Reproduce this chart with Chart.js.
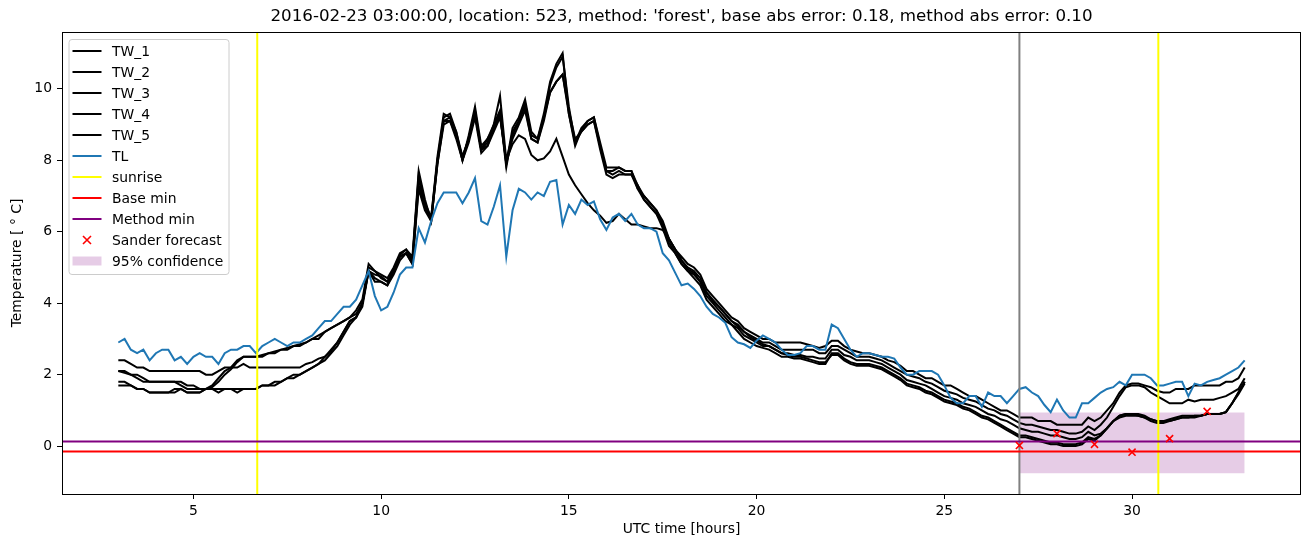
<!DOCTYPE html>
<html>
<head>
<meta charset="utf-8">
<script src="https://cdn.jsdelivr.net/npm/chart.js@4.4.1/dist/chart.umd.min.js"></script>
<style>
  html, body { margin: 0; padding: 0; background: #fff; }
  #wrap { width: 1310px; height: 547px; }
</style>
</head>
<body>
<div id="wrap"><canvas id="chart" width="1310" height="547"></canvas></div>
<script>
// time grid: 10 minute steps from 03:00 to 33:00 (UTC hours)
const START_HOUR = 3
const STEP_HOURS = 1 / 6

// TL, air temperature, one value per 10 minutes
const tl = [
  2.9, 3.0, 2.7, 2.6, 2.7, 2.4,   2.6, 2.7, 2.7, 2.4, 2.5, 2.3,
  2.5, 2.6, 2.5, 2.5, 2.3, 2.6,   2.7, 2.7, 2.8, 2.8, 2.6, 2.8,
  2.9, 3.0, 2.9, 2.8, 2.9, 2.9,   3.0, 3.1, 3.3, 3.5, 3.5, 3.7,
  3.9, 3.9, 4.1, 4.5, 4.9, 4.2,   3.8, 3.9, 4.3, 4.8, 5.0, 5.0,
  6.1, 5.7, 6.3, 6.8, 7.1, 7.1,   7.1, 6.8, 7.1, 7.5, 6.3, 6.2,
  6.7, 7.3, 5.3, 6.6, 7.2, 7.1,   6.9, 7.1, 7.0, 7.4, 7.45, 6.2,
  6.75, 6.5, 6.9, 6.75, 6.85, 6.35,   6.05, 6.4, 6.5, 6.3, 6.5, 6.2,
  6.1, 6.1, 6.0, 5.4, 5.2, 4.85,  4.5, 4.55, 4.4, 4.2, 3.9, 3.7,
  3.6, 3.45, 3.05, 2.9, 2.85, 2.75,   2.95, 3.1, 3.0, 2.9, 2.7, 2.55,
  2.55, 2.6, 2.8, 2.8, 2.7, 2.7,   3.4, 3.3, 3.0, 2.7, 2.5, 2.6,
  2.6, 2.55, 2.5, 2.5, 2.45, 2.2,   2.0, 2.0, 2.1, 2.1, 2.1, 2.0,
  1.7, 1.35, 1.2, 1.2, 1.4, 1.4,   1.1, 1.5, 1.4, 1.4, 1.2, 1.4,
  1.6, 1.65, 1.5, 1.4, 1.15, 0.95,   1.3, 1.0, 0.8, 0.8, 1.2, 1.2,
  1.35, 1.5, 1.6, 1.65, 1.8, 1.7,   2.0, 2.0, 2.0, 1.9, 1.7, 1.7,
  1.75, 1.8, 1.8, 1.4, 1.75, 1.7,   1.8, 1.85, 1.9, 2.0, 2.1, 2.2,
  2.4
]

// TW_1 .. TW_5, road surface sensors
const tw1 = [
  2.4, 2.4, 2.3, 2.2, 2.2, 2.1,   2.1, 2.1, 2.1, 2.1, 2.1, 2.1,
  2.1, 2.1, 2.0, 2.0, 2.1, 2.2,   2.2, 2.2, 2.3, 2.2, 2.2, 2.2,
  2.2, 2.2, 2.2, 2.2, 2.2, 2.2,   2.3, 2.35, 2.45, 2.5, 2.65, 2.9,
  3.2, 3.5, 3.6, 4.0, 4.9, 4.8,   4.75, 4.6, 4.95, 5.35, 5.5, 5.2,
  7.6, 6.8, 6.4, 8.1, 9.3, 9.2,   8.8, 8.0, 8.7, 9.5, 8.4, 8.6,
  9.0, 9.4, 7.9, 8.9, 9.2, 9.7,   8.8, 8.6, 9.3, 10.2, 10.7, 11.0,
  9.3, 8.4, 8.85, 9.1, 9.2, 8.5,   7.8, 7.8, 7.8, 7.7, 7.7, 7.2,
  7.0, 6.8, 6.6, 6.3, 5.8, 5.5,   5.3, 5.1, 5.0, 4.8, 4.4, 4.2,
  4.0, 3.8, 3.6, 3.5, 3.3, 3.2,   3.1, 3.0, 3.0, 2.9, 2.9, 2.9,
  2.9, 2.9, 2.85, 2.8, 2.75, 2.8,   2.95, 2.95, 2.8, 2.7, 2.65, 2.6,
  2.6, 2.55, 2.5, 2.4, 2.35, 2.25,   2.1, 2.1, 2.0, 1.9, 1.9, 1.8,
  1.7, 1.7, 1.6, 1.5, 1.4, 1.4,   1.3, 1.2, 1.1, 1.0, 1.0, 0.9,
  0.8, 0.8, 0.8, 0.7, 0.7, 0.7,   0.6, 0.6, 0.6, 0.6, 0.6, 0.8,
  0.7, 0.8, 1.0, 1.2, 1.5, 1.7,   1.75, 1.75, 1.7, 1.65, 1.55, 1.5,
  1.5, 1.6, 1.6, 1.6, 1.7, 1.7,   1.7, 1.7, 1.7, 1.8, 1.8, 1.9,
  2.2
]
const tw2 = [
  2.1, 2.1, 2.0, 1.9, 1.8, 1.8,   1.8, 1.8, 1.8, 1.8, 1.8, 1.7,
  1.7, 1.6, 1.6, 1.65, 1.8, 2.0,   2.15, 2.35, 2.5, 2.5, 2.5, 2.55,
  2.6, 2.65, 2.7, 2.75, 2.8, 2.85,   2.9, 3.0, 3.1, 3.2, 3.3, 3.4,
  3.5, 3.6, 3.8, 4.1, 5.1, 4.9,   4.8, 4.7, 5.0, 5.4, 5.5, 5.3,
  7.7, 6.9, 6.3, 8.0, 9.2, 9.3,   8.8, 8.1, 8.6, 9.4, 8.3, 8.6,
  8.9, 9.3, 7.8, 8.8, 9.1, 9.6,   8.7, 8.6, 9.2, 10.1, 10.6, 10.9,
  9.5, 8.5, 8.9, 9.1, 9.2, 8.4,   7.7, 7.7, 7.8, 7.7, 7.7, 7.3,
  7.0, 6.8, 6.6, 6.2, 5.8, 5.5,   5.2, 5.0, 4.9, 4.7, 4.3, 4.1,
  3.9, 3.7, 3.5, 3.4, 3.2, 3.1,   3.0, 2.9, 2.9, 2.8, 2.7, 2.7,
  2.7, 2.7, 2.7, 2.7, 2.6, 2.6,   2.8, 2.8, 2.7, 2.6, 2.5, 2.5,
  2.5, 2.45, 2.4, 2.3, 2.2, 2.1,   2.0, 1.95, 1.9, 1.8, 1.75, 1.65,
  1.55, 1.5, 1.45, 1.35, 1.3, 1.25,   1.15, 1.05, 1.0, 0.9, 0.85, 0.75,
  0.65, 0.6, 0.6, 0.55, 0.5, 0.45,   0.45, 0.4, 0.35, 0.35, 0.4, 0.55,
  0.45, 0.6, 0.8, 1.1, 1.4, 1.65,   1.7, 1.7, 1.65, 1.5, 1.4, 1.3,
  1.2, 1.2, 1.2, 1.3, 1.25, 1.3,   1.3, 1.3, 1.35, 1.4, 1.5, 1.6,
  1.9
]
const tw3 = [
  2.1, 2.05, 2.0, 2.0, 1.9, 1.8,   1.8, 1.8, 1.8, 1.8, 1.7, 1.6,
  1.6, 1.6, 1.6, 1.7, 1.9, 2.1,   2.2, 2.4, 2.5, 2.5, 2.5, 2.5,
  2.6, 2.6, 2.7, 2.7, 2.8, 2.8,   2.9, 3.0, 3.0, 3.2, 3.3, 3.4,
  3.5, 3.6, 3.7, 4.0, 5.0, 4.9,   4.7, 4.6, 4.9, 5.3, 5.4, 5.2,
  7.5, 6.7, 6.4, 8.0, 9.1, 9.2,   8.7, 8.1, 8.6, 9.3, 8.3, 8.5,
  9.0, 9.8, 8.0, 8.7, 9.1, 9.5,   8.6, 8.5, 9.2, 9.9, 10.2, 10.4,
  9.4, 8.6, 8.8, 9.0, 9.1, 8.4,   7.7, 7.6, 7.7, 7.6, 7.6, 7.3,
  6.9, 6.7, 6.5, 6.2, 5.7, 5.4,   5.1, 4.9, 4.8, 4.6, 4.2, 4.0,
  3.8, 3.6, 3.4, 3.3, 3.1, 3.0,   2.9, 2.8, 2.8, 2.7, 2.6, 2.6,
  2.55, 2.55, 2.5, 2.5, 2.45, 2.45,   2.7, 2.7, 2.55, 2.5, 2.4, 2.4,
  2.4, 2.35, 2.3, 2.2, 2.1, 2.0,   1.85, 1.8, 1.75, 1.7, 1.6, 1.5,
  1.4, 1.35, 1.3, 1.2, 1.15, 1.1,   1.0, 0.9, 0.85, 0.75, 0.7, 0.6,
  0.5, 0.45, 0.4, 0.4, 0.35, 0.3,   0.3, 0.25, 0.2, 0.2, 0.25, 0.4,
  0.3, 0.35, 0.5, 0.7, 0.85, 0.9,   0.9, 0.85, 0.8, 0.75, 0.7, 0.7,
  0.7, 0.75, 0.8, 0.8, 0.8, 0.85,   0.9, 0.9, 0.9, 0.95, 1.2, 1.5,
  1.8
]
const tw4 = [
  1.8, 1.8, 1.7, 1.6, 1.6, 1.5,   1.5, 1.5, 1.5, 1.6, 1.6, 1.5,
  1.5, 1.5, 1.6, 1.6, 1.6, 1.6,   1.6, 1.6, 1.6, 1.6, 1.6, 1.7,
  1.7, 1.8, 1.8, 1.9, 2.0, 2.0,   2.1, 2.2, 2.3, 2.5, 2.7, 2.9,
  3.2, 3.5, 3.6, 4.0, 4.9, 4.7,   4.6, 4.5, 4.9, 5.3, 5.4, 5.1,
  7.3, 6.7, 6.3, 7.9, 9.1, 9.1,   8.7, 8.0, 8.6, 9.3, 8.3, 8.4,
  8.9, 9.3, 7.9, 8.6, 9.0, 9.4,   8.6, 8.5, 9.1, 9.9, 10.2, 10.4,
  9.3, 8.5, 8.8, 9.0, 9.1, 8.3,   7.6, 7.5, 7.6, 7.6, 7.6, 7.2,
  6.9, 6.7, 6.5, 6.1, 5.6, 5.4,   5.1, 4.9, 4.7, 4.5, 4.1, 3.9,
  3.7, 3.5, 3.4, 3.2, 3.0, 2.9,   2.8, 2.75, 2.7, 2.6, 2.5, 2.5,
  2.45, 2.45, 2.4, 2.35, 2.3, 2.3,   2.6, 2.6, 2.45, 2.35, 2.3, 2.3,
  2.3, 2.25, 2.2, 2.1, 2.0, 1.9,   1.75, 1.7, 1.65, 1.55, 1.5, 1.4,
  1.3, 1.25, 1.2, 1.1, 1.05, 0.95,   0.85, 0.8, 0.7, 0.6, 0.5, 0.4,
  0.3, 0.3, 0.25, 0.2, 0.15, 0.1,   0.1, 0.05, 0.05, 0.05, 0.1, 0.25,
  0.2, 0.3, 0.5, 0.7, 0.85, 0.9,   0.9, 0.9, 0.85, 0.75, 0.7, 0.7,
  0.75, 0.8, 0.85, 0.85, 0.85, 0.85,   0.9, 0.9, 0.9, 0.95, 1.2, 1.5,
  1.8
]
const tw5 = [
  1.7, 1.7, 1.7, 1.6, 1.6, 1.5,   1.5, 1.5, 1.5, 1.5, 1.6, 1.5,
  1.5, 1.5, 1.6, 1.6, 1.5, 1.6,   1.6, 1.5, 1.6, 1.6, 1.6, 1.7,
  1.7, 1.7, 1.8, 1.9, 1.9, 2.0,   2.1, 2.2, 2.3, 2.4, 2.6, 2.8,
  3.1, 3.4, 3.6, 3.9, 4.9, 4.6,   4.6, 4.5, 4.8, 5.2, 5.4, 5.1,
  7.2, 6.6, 6.3, 7.9, 9.0, 9.1,   8.6, 8.0, 8.5, 9.2, 8.2, 8.4,
  8.8, 9.2, 8.0, 8.45, 8.7, 8.6,   8.15, 8.0, 8.05, 8.25, 8.6, 8.1,
  7.6, 7.3, 7.05, 6.8, 6.6, 6.45,   6.25, 6.3, 6.5, 6.35, 6.2, 6.2,
  6.15, 6.1, 6.1, 6.05, 5.8, 5.5,   5.2, 4.95, 4.85, 4.6, 4.3, 4.05,
  3.9, 3.7, 3.5, 3.35, 3.2, 3.05,   2.95, 2.85, 2.8, 2.7, 2.6, 2.55,
  2.5, 2.5, 2.45, 2.4, 2.35, 2.35,   2.55, 2.55, 2.4, 2.3, 2.25, 2.25,
  2.25, 2.2, 2.15, 2.05, 1.95, 1.85,   1.7, 1.65, 1.6, 1.5, 1.45, 1.35,
  1.25, 1.2, 1.15, 1.05, 1.0, 0.9,   0.8, 0.75, 0.65, 0.55, 0.45, 0.35,
  0.25, 0.25, 0.2, 0.15, 0.1, 0.05,   0.05, 0.0, 0.0, 0.0, 0.05, 0.2,
  0.15, 0.3, 0.5, 0.7, 0.8, 0.85,   0.85, 0.85, 0.8, 0.7, 0.65, 0.65,
  0.7, 0.75, 0.8, 0.8, 0.85, 0.85,   0.9, 0.9, 0.9, 0.95, 1.2, 1.45,
  1.75
]

const sunriseHours = [6.7, 30.7]
const forecastStart = 27
const baseMin = -0.15
const methodMin = 0.13
const forecastHours = [27, 28, 29, 30, 31, 32]
const forecastTemps = [0.02, 0.35, 0.05, -0.17, 0.21, 0.97]
const ciHours = [27, 33]
const ciLow = -0.76
const ciHigh = 0.94

const xTicks = [5, 10, 15, 20, 25, 30]
const yTicks = [0, 2, 4, 6, 8, 10]
const X_MIN = 1.5, X_MAX = 34.5
const Y_MIN = -1.34, Y_MAX = 11.59

const title = "2016-02-23 03:00:00, location: 523, method: 'forest', base abs error: 0.18, method abs error: 0.10"
const FONT = "'DejaVu Sans', sans-serif"
const LW = 2

const hours = tl.map((_, i) => START_HOUR + i * STEP_HOURS)
const toPoints = ys => ys.map((y, i) => ({ x: hours[i], y: y }))

const series = (label, ys, color) => ({
  label: label,
  data: toPoints(ys),
  borderColor: color,
  borderWidth: LW,
  pointRadius: 0,
  fill: false,
  tension: 0
})
const vline = (label, x, color) => ({
  label: label,
  data: [{ x: x, y: Y_MIN }, { x: x, y: Y_MAX }],
  borderColor: color,
  borderWidth: LW,
  pointRadius: 0,
  fill: false
})
const hline = (label, y, color) => ({
  label: label,
  data: [{ x: X_MIN, y: y }, { x: X_MAX, y: y }],
  borderColor: color,
  borderWidth: LW,
  pointRadius: 0,
  fill: false
})

// first dataset is drawn on top
const datasets = [
  {
    label: 'Sander forecast',
    data: forecastHours.map((x, i) => ({ x: x, y: forecastTemps[i] })),
    showLine: false,
    pointStyle: 'crossRot',
    pointRadius: 5,
    pointBorderWidth: 1.6,
    borderColor: '#ff0000',
    backgroundColor: '#ff0000'
  },
  hline('Method min', methodMin, '#800080'),
  hline('Base min', baseMin, '#ff0000'),
  vline('sunrise', sunriseHours[0], '#ffff00'),
  vline('', sunriseHours[1], '#ffff00'),
  vline('', forecastStart, '#808080'),
  series('TL', tl, '#1f77b4'),
  series('TW_5', tw5, '#000000'),
  series('TW_4', tw4, '#000000'),
  series('TW_3', tw3, '#000000'),
  series('TW_2', tw2, '#000000'),
  series('TW_1', tw1, '#000000'),
  {
    label: '95% confidence',
    data: ciHours.map(x => ({ x: x, y: ciHigh })),
    borderColor: 'rgba(0,0,0,0)',
    borderWidth: 0,
    pointRadius: 0,
    backgroundColor: 'rgba(128,0,128,0.2)',
    fill: '+1'
  },
  {
    label: '',
    data: ciHours.map(x => ({ x: x, y: ciLow })),
    borderColor: 'rgba(0,0,0,0)',
    borderWidth: 0,
    pointRadius: 0,
    fill: false
  }
]

const legendOrder = ['TW_1', 'TW_2', 'TW_3', 'TW_4', 'TW_5', 'TL', 'sunrise', 'Base min', 'Method min', 'Sander forecast', '95% confidence']

const decorations = {
  id: 'decorations',
  afterDraw(chart) {
    const ctx = chart.ctx
    const a = chart.chartArea
    ctx.save()

    // frame
    ctx.strokeStyle = '#000'
    ctx.lineWidth = 1
    ctx.strokeRect(a.left + 0.5, a.top + 0.5, a.right - a.left - 1, a.bottom - a.top)

    // title and axis titles
    ctx.fillStyle = '#000'
    ctx.textAlign = 'center'
    ctx.textBaseline = 'middle'
    ctx.font = '16.7px ' + FONT
    ctx.fillText(title, (a.left + a.right) / 2, 17)
    ctx.font = '13.9px ' + FONT
    ctx.fillText('UTC time [hours]', (a.left + a.right) / 2, 529)
    ctx.save()
    ctx.translate(17, (a.top + a.bottom) / 2)
    ctx.rotate(-Math.PI / 2)
    ctx.fillText('Temperature [ \u00b0 C]', 0, 0)
    ctx.restore()

    // legend box
    const bx = 69, by = 39.5, bw = 160, bh = 235
    ctx.beginPath()
    ctx.roundRect(bx, by, bw, bh, 3)
    ctx.fillStyle = 'rgba(255,255,255,0.8)'
    ctx.fill()
    ctx.strokeStyle = '#cccccc'
    ctx.lineWidth = 1
    ctx.stroke()

    ctx.textAlign = 'left'
    legendOrder.forEach((name, k) => {
      const ds = chart.data.datasets.find(d => d.label === name)
      const y = 51 + k * 21
      if (name === 'Sander forecast') {
        ctx.strokeStyle = ds.borderColor
        ctx.lineWidth = 1.6
        ctx.beginPath()
        ctx.moveTo(83, y - 4); ctx.lineTo(91, y + 4)
        ctx.moveTo(91, y - 4); ctx.lineTo(83, y + 4)
        ctx.stroke()
      } else if (name === '95% confidence') {
        ctx.fillStyle = ds.backgroundColor
        ctx.fillRect(72.5, y - 4.5, 29, 9)
      } else {
        ctx.strokeStyle = ds.borderColor
        ctx.lineWidth = LW
        ctx.beginPath()
        ctx.moveTo(72.5, y)
        ctx.lineTo(101.5, y)
        ctx.stroke()
      }
      ctx.fillStyle = '#000'
      ctx.fillText(name, 112, y + 1)
    })
    ctx.restore()
  }
}

Chart.defaults.font.family = FONT
Chart.defaults.font.size = 13.9
Chart.defaults.color = '#000'

new Chart(document.getElementById('chart'), {
  type: 'line',
  data: { datasets: datasets },
  options: {
    responsive: false,
    animation: false,
    layout: { padding: { left: 0, right: 9, top: 32, bottom: 0 } },
    plugins: { legend: { display: false }, tooltip: { enabled: false } },
    scales: {
      x: {
        type: 'linear',
        min: X_MIN,
        max: X_MAX,
        afterBuildTicks: axis => { axis.ticks = xTicks.map(v => ({ value: v })) },
        afterFit: axis => { axis.height = 53 },
        ticks: { padding: 4, maxRotation: 0, autoSkip: false, callback: v => String(v) },
        grid: { drawOnChartArea: false, drawTicks: true, tickLength: 5, color: '#000' },
        border: { display: false }
      },
      y: {
        type: 'linear',
        min: Y_MIN,
        max: Y_MAX,
        afterBuildTicks: axis => { axis.ticks = yTicks.map(v => ({ value: v })) },
        afterFit: axis => { axis.width = 62 },
        ticks: { padding: 5, autoSkip: false, callback: v => String(v) },
        grid: { drawOnChartArea: false, drawTicks: true, tickLength: 5, color: '#000' },
        border: { display: false }
      }
    }
  },
  plugins: [decorations]
})
</script>
</body>
</html>
